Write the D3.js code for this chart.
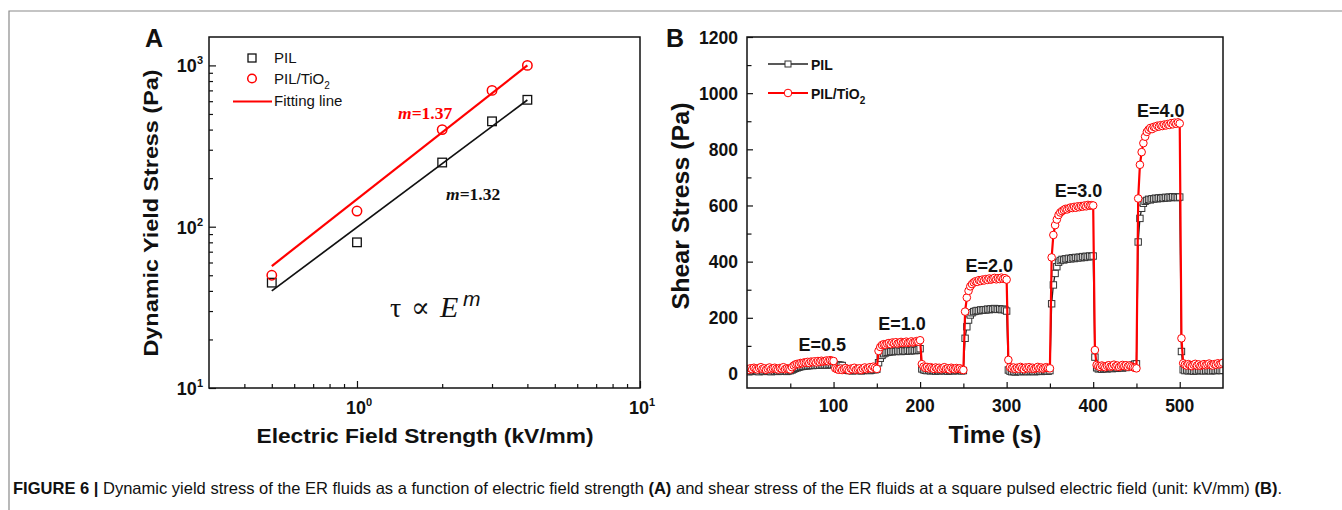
<!DOCTYPE html>
<html><head><meta charset="utf-8">
<script src="https://cdn.jsdelivr.net/npm/d3@7"></script>
<style>
html,body{margin:0;padding:0;background:#fff;}
svg{display:block;}
text{font-family:"Liberation Sans",Arial,sans-serif;fill:#111;}
</style></head><body>
<svg id="chart" width="1342" height="510"></svg>
<script>
// ---------- Panel A data ----------
const fieldKV   = [0.5, 1, 2, 3, 4];
const yieldPIL  = [45, 80, 250, 450, 612];
const yieldTiO2 = [50, 125, 400, 700, 1000];
const fitField  = [0.5, 4];
const fitPIL    = [40, 610];
const fitTiO2   = [57, 1000];
const aXMajor   = [1, 10];
const aXMajorExp = ["0", "1"];
const aXMinor   = [0.4,0.5,0.6,0.7,0.8,0.9,2,3,4,5,6,7,8,9];
const aYMajor   = [10, 100, 1000];
const aYMajorExp = ["1", "2", "3"];
const aYMinor   = [20,30,40,50,60,70,80,90,200,300,400,500,600,700,800,900];
const slopeTiO2 = "1.37";
const slopePIL  = "1.32";

// ---------- Panel B data ----------
const timeS = [
  0,2,4,6,8,10,12,14,16,18,20,22,24,26,28,30,32,34,36,38,40,42,44,46,48,50,
  52,54,56,58,60,62,64,66,68,70,72,74,76,78,80,82,84,86,88,90,92,94,96,98,100,
  102,104,106,108,110,112,114,116,118,120,122,124,126,128,130,132,134,136,138,140,142,144,146,148,150,
  152,154,156,158,160,162,164,166,168,170,172,174,176,178,180,182,184,186,188,190,192,194,196,198,200,
  202,204,206,208,210,212,214,216,218,220,222,224,226,228,230,232,234,236,238,240,242,244,246,248,250,
  252,254,256,258,260,262,264,266,268,270,272,274,276,278,280,282,284,286,288,290,292,294,296,298,300,
  302,304,306,308,310,312,314,316,318,320,322,324,326,328,330,332,334,336,338,340,342,344,346,348,350,
  352,354,356,358,360,362,364,366,368,370,372,374,376,378,380,382,384,386,388,390,392,394,396,398,400,
  402,404,406,408,410,412,414,416,418,420,422,424,426,428,430,432,434,436,438,440,442,444,446,448,450,
  452,454,456,458,460,462,464,466,468,470,472,474,476,478,480,482,484,486,488,490,492,494,496,498,500,
  502,504,506,508,510,512,514,516,518,520,522,524,526,528,530,532,534,536,538,540,542,544,546,548,550
];
const stressTiO2 = [
  18,15,20,17,22,19,16,21,24,18,20,15,19,23,17,20,22,18,16,21,19,24,17,20,18,16,
  24,30,34,36,35,39,38,41,40,43,39,44,42,45,41,46,43,47,44,46,48,45,49,47,46,
  20,17,15,19,14,18,21,16,13,19,17,22,15,18,20,14,19,23,17,21,24,19,26,22,18,
  82,96,103,106,104,108,110,106,112,109,113,108,111,114,110,112,115,111,113,116,112,114,117,115,120,
  35,26,22,25,20,24,21,18,23,19,22,17,21,24,18,20,16,22,19,17,21,18,20,16,14,
  222,272,296,312,320,326,330,328,334,331,336,333,338,335,340,336,339,342,337,341,338,343,339,341,336,
  50,24,20,23,18,22,19,25,21,17,23,20,24,19,22,18,21,25,20,23,19,22,24,21,20,
  415,495,530,550,566,575,580,584,588,586,590,593,591,595,592,597,594,598,596,600,597,602,599,601,600,
  85,32,28,25,30,27,24,29,31,26,28,33,27,30,25,29,32,28,31,26,30,27,24,22,20,
  625,745,790,822,845,862,870,876,872,880,878,884,881,886,883,888,885,890,887,893,889,895,891,896,892,
  127,38,33,30,35,31,28,33,36,30,34,29,32,35,31,34,37,32,30,35,33,38,34,36,40
];
const stressPIL = [
  10,8,12,9,11,13,10,8,12,11,9,13,10,12,8,11,10,13,9,12,11,10,12,9,11,12,
  14,17,20,22,24,26,27,28,29,29,30,31,30,31,32,31,32,33,32,33,32,33,34,33,34,
  33,32,32,31,30,20,15,13,12,14,11,13,12,14,13,11,12,14,13,15,12,14,16,15,17,
  40,56,66,72,75,77,78,80,79,81,80,82,81,80,83,82,81,84,82,83,85,83,84,86,90,
  18,15,13,12,14,11,13,12,10,13,11,12,14,11,13,10,12,13,11,12,14,12,13,11,12,
  127,168,192,210,218,222,224,226,225,228,227,229,228,231,229,232,230,233,231,230,232,229,231,228,224,
  14,10,8,9,7,10,9,8,11,9,10,8,9,11,10,8,9,10,11,9,10,12,11,10,12,
  250,317,358,382,398,404,408,406,410,409,412,410,414,411,415,413,416,414,418,415,419,417,420,418,420,
  60,22,18,20,17,19,21,18,20,22,19,21,23,20,22,24,21,25,23,27,26,30,32,35,36,
  470,554,590,608,615,618,622,620,624,623,626,624,627,625,628,626,629,627,630,628,631,629,630,628,630,
  80,15,12,14,11,13,12,10,13,11,14,12,13,11,12,14,13,11,12,13,12,14,13,12,13
];
const bXMajor = [100, 200, 300, 400, 500];
const bXMinor = [50, 150, 250, 350, 450];
const bYMajor = [0, 200, 400, 600, 800, 1000, 1200];
const bYMinor = [100, 300, 500, 700, 900, 1100];
const fieldLabels    = ["E=0.5", "E=1.0", "E=2.0", "E=3.0", "E=4.0"];
const fieldLabelT    = [87, 179, 280, 383, 478];
const fieldLabelS    = [83, 157, 364, 631, 916];

// ---------- layout ----------
const svg = d3.select("#chart");
const RED = "#ff0000";
const A = {left: 209, right: 640, top: 37, bottom: 388};
const B = {left: 747, right: 1223, top: 37, bottom: 388};

// outer figure frame
svg.append("path").attr("d", "M9,510 V11 H1342").attr("fill","none").attr("stroke","#8a8a8a").attr("stroke-width",1.2);

// ===== Panel A =====
const xA = d3.scaleLog().domain([0.3, 10]).range([A.left, A.right]);
const yA = d3.scaleLog().domain([10, 1500]).range([A.bottom, A.top]);
const gA = svg.append("g");

function tickAxis(g, axis, tx, ty) {
  const a = g.append("g").attr("transform", `translate(${tx},${ty})`).call(axis);
  a.select(".domain").remove();
  a.selectAll("line").attr("stroke", "#111").attr("stroke-width", 1.2);
  return a;
}
tickAxis(gA, d3.axisBottom(xA).tickValues(aXMajor).tickSize(-7).tickFormat(""), 0, A.bottom);
tickAxis(gA, d3.axisBottom(xA).tickValues(aXMinor).tickSize(-4).tickFormat(""), 0, A.bottom);
tickAxis(gA, d3.axisLeft(yA).tickValues(aYMajor).tickSize(-7).tickFormat(""), A.left, 0);
tickAxis(gA, d3.axisLeft(yA).tickValues(aYMinor).tickSize(-4).tickFormat(""), A.left, 0);

gA.append("rect").attr("x", A.left).attr("y", A.top).attr("width", A.right - A.left).attr("height", A.bottom - A.top)
  .attr("fill", "none").attr("stroke", "#111").attr("stroke-width", 1.5);

function powLabel(g, x, y, exp, anchor) {
  const t = g.append("text").attr("x", x).attr("y", y).attr("text-anchor", anchor)
    .attr("font-weight", "bold").attr("font-size", 18);
  t.append("tspan").text("10");
  t.append("tspan").attr("dy", -8).attr("font-size", 11).text(exp);
}
aYMajor.forEach((v, i) => powLabel(gA, 203, yA(v) + 7, aYMajorExp[i], "end"));
aXMajor.forEach((v, i) => powLabel(gA, xA(v) + 2, 414, aXMajorExp[i], "middle"));

// fit lines
const lineA = d3.line().x(d => xA(d[0])).y(d => yA(d[1]));
gA.append("path").attr("d", lineA(fitField.map((x, i) => [x, fitPIL[i]])))
  .attr("fill", "none").attr("stroke", "#111").attr("stroke-width", 1.7);
gA.append("path").attr("d", lineA(fitField.map((x, i) => [x, fitTiO2[i]])))
  .attr("fill", "none").attr("stroke", RED).attr("stroke-width", 2.2);

// markers
gA.selectAll(".sqA").data(fieldKV.map((x, i) => [x, yieldPIL[i]])).enter().append("rect")
  .attr("x", d => xA(d[0]) - 4.3).attr("y", d => yA(d[1]) - 4.3).attr("width", 8.6).attr("height", 8.6)
  .attr("fill", "none").attr("stroke", "#111").attr("stroke-width", 1.3);
gA.selectAll(".ciA").data(fieldKV.map((x, i) => [x, yieldTiO2[i]])).enter().append("circle")
  .attr("cx", d => xA(d[0])).attr("cy", d => yA(d[1])).attr("r", 4.7)
  .attr("fill", "none").attr("stroke", RED).attr("stroke-width", 1.5);

// legend A
gA.append("rect").attr("x", 248).attr("y", 54).attr("width", 8).attr("height", 8)
  .attr("fill", "none").attr("stroke", "#111").attr("stroke-width", 1.3);
gA.append("circle").attr("cx", 252).attr("cy", 78.5).attr("r", 4.3)
  .attr("fill", "none").attr("stroke", RED).attr("stroke-width", 1.5);
gA.append("line").attr("x1", 233).attr("x2", 272).attr("y1", 101.5).attr("y2", 101.5)
  .attr("stroke", RED).attr("stroke-width", 2.2);
gA.append("text").attr("x", 274).attr("y", 63).attr("font-size", 15).text("PIL");
const lgT = gA.append("text").attr("x", 274).attr("y", 84).attr("font-size", 15);
lgT.append("tspan").text("PIL/TiO");
lgT.append("tspan").attr("dy", 5).attr("font-size", 10).text("2");
gA.append("text").attr("x", 274).attr("y", 106).attr("font-size", 15).text("Fitting line");

// slope annotations
function slopeText(g, x, y, val, color) {
  const t = g.append("text").attr("x", x).attr("y", y).attr("font-size", 17.5).attr("font-weight", "bold")
    .style("font-family", "'Liberation Serif','Times New Roman',serif").style("fill", color);
  t.append("tspan").attr("font-style", "italic").text("m");
  t.append("tspan").text("=" + val);
}
slopeText(gA, 398, 119, slopeTiO2, RED);
slopeText(gA, 446, 200, slopePIL, "#111");

// tau ∝ E^m
const eq = gA.append("text").attr("y", 317).style("font-family", "'Liberation Serif','DejaVu Serif',serif");
eq.append("tspan").attr("x", 390).attr("font-size", 28).text("τ");
eq.append("tspan").attr("x", 411).attr("font-size", 28).text("∝");
eq.append("tspan").attr("x", 440).attr("font-size", 30).attr("font-style", "italic").text("E");
eq.append("tspan").attr("x", 463).attr("y", 306).attr("font-size", 21).attr("font-style", "italic")
  .style("font-family", "'Liberation Sans',Arial,sans-serif").text("m");

// titles A
gA.append("text").attr("transform", `translate(158,${(A.top + A.bottom) / 2 + 0.5}) rotate(-90)`)
  .attr("text-anchor", "middle").attr("font-weight", "bold").attr("font-size", 21)
  .attr("textLength", 287).attr("lengthAdjust", "spacingAndGlyphs").text("Dynamic Yield Stress (Pa)");
gA.append("text").attr("x", 425).attr("y", 443).attr("text-anchor", "middle").attr("font-weight", "bold")
  .attr("font-size", 21).attr("textLength", 337).attr("lengthAdjust", "spacingAndGlyphs")
  .text("Electric Field Strength (kV/mm)");
gA.append("text").attr("x", 145).attr("y", 47).attr("font-weight", "bold").attr("font-size", 25).text("A");

// ===== Panel B =====
const xB = d3.scaleLinear().domain([0, 550]).range([B.left, B.right]);
const yB = d3.scaleLinear().domain([-50, 1200]).range([B.bottom, B.top]);
const gB = svg.append("g");

tickAxis(gB, d3.axisBottom(xB).tickValues(bXMajor).tickSize(-6).tickFormat(""), 0, B.bottom);
tickAxis(gB, d3.axisBottom(xB).tickValues(bXMinor).tickSize(-4.5).tickFormat(""), 0, B.bottom);
tickAxis(gB, d3.axisLeft(yB).tickValues(bYMajor).tickSize(-6).tickFormat(""), B.left, 0);
tickAxis(gB, d3.axisLeft(yB).tickValues(bYMinor).tickSize(-4.5).tickFormat(""), B.left, 0);

bYMajor.forEach(v => gB.append("text").attr("x", 738).attr("y", yB(v) + 6.5).attr("text-anchor", "end")
  .attr("font-weight", "bold").attr("font-size", 17.5).text(v));
bXMajor.forEach(v => gB.append("text").attr("x", xB(v)).attr("y", 412).attr("text-anchor", "middle")
  .attr("font-weight", "bold").attr("font-size", 17.5).text(v));

svg.append("defs").append("clipPath").attr("id", "clipB").append("rect")
  .attr("x", B.left).attr("y", B.top).attr("width", B.right - B.left).attr("height", B.bottom - B.top);
const plotB = gB.append("g").attr("clip-path", "url(#clipB)");

const lineB = d3.line().x(d => xB(d[0])).y(d => yB(d[1]));
const pilPts = timeS.map((t, i) => [t, stressPIL[i]]);
const tioPts = timeS.map((t, i) => [t, stressTiO2[i]]);

plotB.append("path").attr("d", lineB(pilPts)).attr("fill", "none").attr("stroke", "#222").attr("stroke-width", 1.3);
plotB.selectAll(".sqB").data(pilPts).enter().append("rect")
  .attr("x", d => xB(d[0]) - 3.2).attr("y", d => yB(d[1]) - 3.2).attr("width", 6.4).attr("height", 6.4)
  .attr("fill", "#fff").attr("stroke", "#333").attr("stroke-width", 1);
plotB.append("path").attr("d", lineB(tioPts)).attr("fill", "none").attr("stroke", RED).attr("stroke-width", 2.2);
plotB.selectAll(".ciB").data(tioPts).enter().append("circle")
  .attr("cx", d => xB(d[0])).attr("cy", d => yB(d[1])).attr("r", 3.8)
  .attr("fill", "#fff").attr("stroke", RED).attr("stroke-width", 1);

gB.append("rect").attr("x", B.left).attr("y", B.top).attr("width", B.right - B.left).attr("height", B.bottom - B.top)
  .attr("fill", "none").attr("stroke", "#111").attr("stroke-width", 1.5);

fieldLabels.forEach((s, i) => gB.append("text").attr("x", xB(fieldLabelT[i])).attr("y", yB(fieldLabelS[i]))
  .attr("text-anchor", "middle").attr("font-weight", "bold").attr("font-size", 18).text(s));

// legend B
gB.append("line").attr("x1", 768).attr("x2", 808).attr("y1", 64).attr("y2", 64).attr("stroke", "#222").attr("stroke-width", 1.6);
gB.append("rect").attr("x", 785).attr("y", 61).attr("width", 6).attr("height", 6).attr("fill", "#fff").attr("stroke", "#333");
gB.append("line").attr("x1", 768).attr("x2", 808).attr("y1", 93).attr("y2", 93).attr("stroke", RED).attr("stroke-width", 2.2);
gB.append("circle").attr("cx", 788).attr("cy", 93).attr("r", 3.8).attr("fill", "#fff").attr("stroke", RED);
gB.append("text").attr("x", 811).attr("y", 69.5).attr("font-weight", "bold").attr("font-size", 14).text("PIL");
const lgB = gB.append("text").attr("x", 811).attr("y", 99).attr("font-weight", "bold").attr("font-size", 14);
lgB.append("tspan").text("PIL/TiO");
lgB.append("tspan").attr("dy", 5).attr("font-size", 10).text("2");

// titles B
gB.append("text").attr("transform", `translate(689,206) rotate(-90)`).attr("text-anchor", "middle")
  .attr("font-weight", "bold").attr("font-size", 24).attr("textLength", 207).attr("lengthAdjust", "spacingAndGlyphs")
  .text("Shear Stress (Pa)");
gB.append("text").attr("x", 995).attr("y", 443).attr("text-anchor", "middle").attr("font-weight", "bold")
  .attr("font-size", 24).attr("textLength", 93).attr("lengthAdjust", "spacingAndGlyphs").text("Time (s)");
gB.append("text").attr("x", 666).attr("y", 47).attr("font-weight", "bold").attr("font-size", 25).text("B");

// caption
const cap = svg.append("text").attr("x", 13).attr("y", 494).attr("font-size", 16.5)
  .attr("textLength", 1269).attr("lengthAdjust", "spacingAndGlyphs");
cap.append("tspan").attr("font-weight", "bold").text("FIGURE 6 |");
cap.append("tspan").text(" Dynamic yield stress of the ER fluids as a function of electric field strength ");
cap.append("tspan").attr("font-weight", "bold").text("(A)");
cap.append("tspan").text(" and shear stress of the ER fluids at a square pulsed electric field (unit: kV/mm) ");
cap.append("tspan").attr("font-weight", "bold").text("(B)");
cap.append("tspan").text(".");
</script>
</body></html>
